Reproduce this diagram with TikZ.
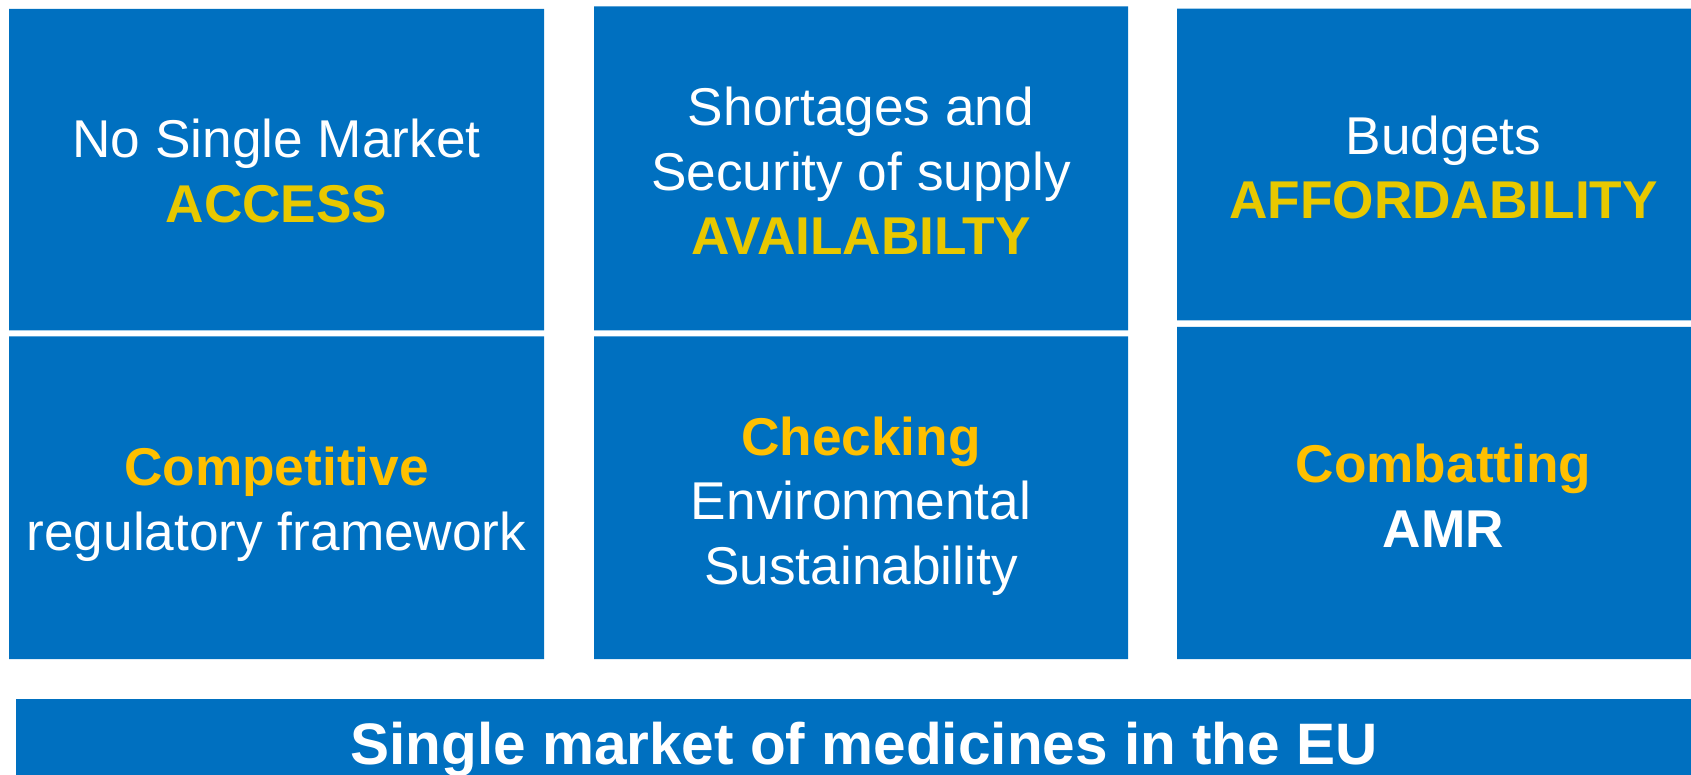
\documentclass[tikz,border=0pt]{standalone}
\usepackage{fontspec}
\setmainfont{Liberation Sans}
\definecolor{eublue}{HTML}{0070C0}
\definecolor{topgold}{HTML}{E8C800}
\definecolor{lowgold}{HTML}{FFC000}
\newcommand{\hi}[2]{\textcolor{#1}{\textbf{#2}}}
\begin{document}
\begin{tikzpicture}[x=1pt,y=-1pt,
	txt/.style={text=white,inner sep=0pt,align=center,font=\fontsize{53.2}{64.5}\selectfont}]
	\clip (0,0) rectangle (1691,775);
	%boxes
	\fill[eublue] (9,9) rectangle (544,330.5) (594,6.5) rectangle (1128,330.5) (1177,8.6) rectangle (1710,320.5);
	\fill[eublue] (9,336.5) rectangle (544,659) (594,336.5) rectangle (1128,659) (1177,327) rectangle (1710,659);
	\fill[eublue] (16,699) rectangle (1712,800);
	%top row
	\node[txt] (access) at (276.5,171) {No Single Market\\\hi{topgold}{ACCESS}};
	\node[txt] (avail) at (861,170.75) {Shortages and\\Security of supply\\\hi{topgold}{AVAILABILTY}};
	\node[txt] (afford) at (1443.5,167.5) {Budgets\\\hi{topgold}{AFFORDABILITY}};
	%bottom row
	\node[txt] (compet) at (276.5,504.25) {\hi{lowgold}{Competitive}\\regulatory framework};
	\node[txt] (checking) at (861,505.75) {\hi{lowgold}{Checking}\\Environmental\\Sustainability};
	\node[txt] (amr) at (1443.5,495.7) {\hi{lowgold}{Combatting}\\\textbf{AMR}};
	%base
	\node[txt,font=\fontsize{58.5}{70}\selectfont\bfseries] (market) at (864,749.5) {Single market of medicines in the EU};
\end{tikzpicture}
\end{document}
